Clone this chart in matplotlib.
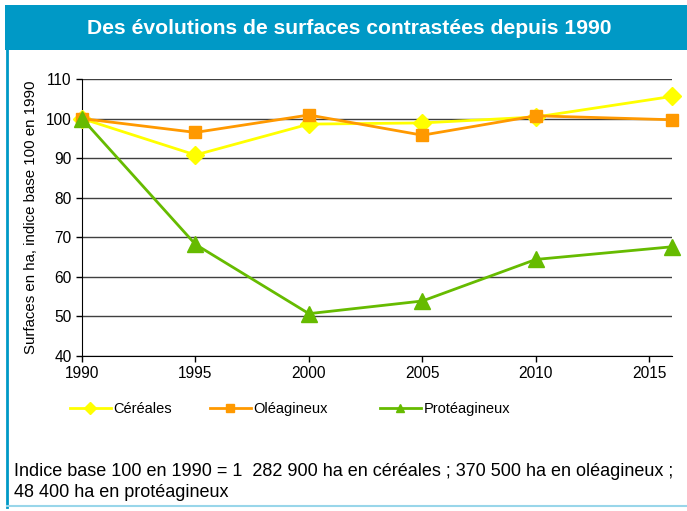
import matplotlib.pyplot as plt
from matplotlib.patches import Rectangle
from matplotlib.lines import Line2D

plt.rcParams['font.family'] = ['Liberation Sans', 'DejaVu Sans']

years = [1990, 1995, 2000, 2005, 2010, 2016]
cereales = [100, 90.8, 98.6, 98.9, 100.4, 105.6]
oleagineux = [100, 96.5, 100.9, 95.8, 100.7, 99.7]
proteagineux = [100, 68.2, 50.7, 53.9, 64.4, 67.6]
xticks = [1990, 1995, 2000, 2005, 2010, 2015]
yticks = [40, 50, 60, 70, 80, 90, 100, 110]

series = [
    ('Céréales', cereales, '#FFFF00', 'D', 9),
    ('Oléagineux', oleagineux, '#FF9900', 's', 9),
    ('Protéagineux', proteagineux, '#66BB00', '^', 11),
]

W, H = 687, 511
fig = plt.figure(figsize=(W / 100, H / 100), dpi=100)

# frame + title band
fig.patches.append(Rectangle((5 / W, 1 - 50 / H), 1 - 5 / W, 45 / H, transform=fig.transFigure,
                             facecolor='#0099C6', edgecolor='none', zorder=0))
fig.add_artist(Line2D([6.5 / W, 6.5 / W], [1 - 50 / H, 1 - 507 / H], transform=fig.transFigure,
                      color='#0099C6', lw=2))
fig.add_artist(Line2D([6.5 / W, 1], [1 - 506 / H, 1 - 506 / H], transform=fig.transFigure,
                      color='#99D6EA', lw=1.5))
fig.text(349 / W, 1 - 28 / H, 'Des évolutions de surfaces contrastées depuis 1990',
         color='white', fontsize=15.2, fontweight='bold', ha='center', va='center')

ax = fig.add_axes([82 / W, 1 - 356 / H, 590 / W, 277 / H])
for name, vals, col, mk, ms in series:
    ax.plot(years, vals, color=col, lw=2, marker=mk, markersize=ms, clip_on=False, zorder=3)

ax.set_xlim(1990, 2016)
ax.set_ylim(40, 110)
ax.set_xticks(xticks)
ax.set_yticks(yticks)
ax.tick_params(labelsize=11.2, length=4, width=1, colors='black')
ax.yaxis.grid(True, color='#404040', lw=1)
ax.set_axisbelow(True)
for s in ['top', 'right']:
    ax.spines[s].set_visible(False)
ax.set_ylabel('Surfaces en ha, indice base 100 en 1990', fontsize=10.8)
ax.yaxis.set_label_coords(-0.074, 0.5)

# legend entries placed individually
legx = [70, 210, 380]
for (name, vals, col, mk, ms), lx in zip(series, legx):
    h = Line2D([], [], color=col, lw=2, marker=mk, markersize=6)
    fig.legend([h], [name], loc='center left', bbox_to_anchor=(lx / W, 1 - 409 / H),
               frameon=False, fontsize=10.5, borderpad=0, borderaxespad=0,
               handlelength=2.8, handletextpad=0.2)

fig.text(14 / W, 1 - 482 / H,
         'Indice base 100 en 1990 = 1  282 900 ha en céréales ; 370 500 ha en oléagineux ;\n'
         '48 400 ha en protéagineux', fontsize=13, va='center', linespacing=1.35)

fig.savefig('out.png', dpi=100)
